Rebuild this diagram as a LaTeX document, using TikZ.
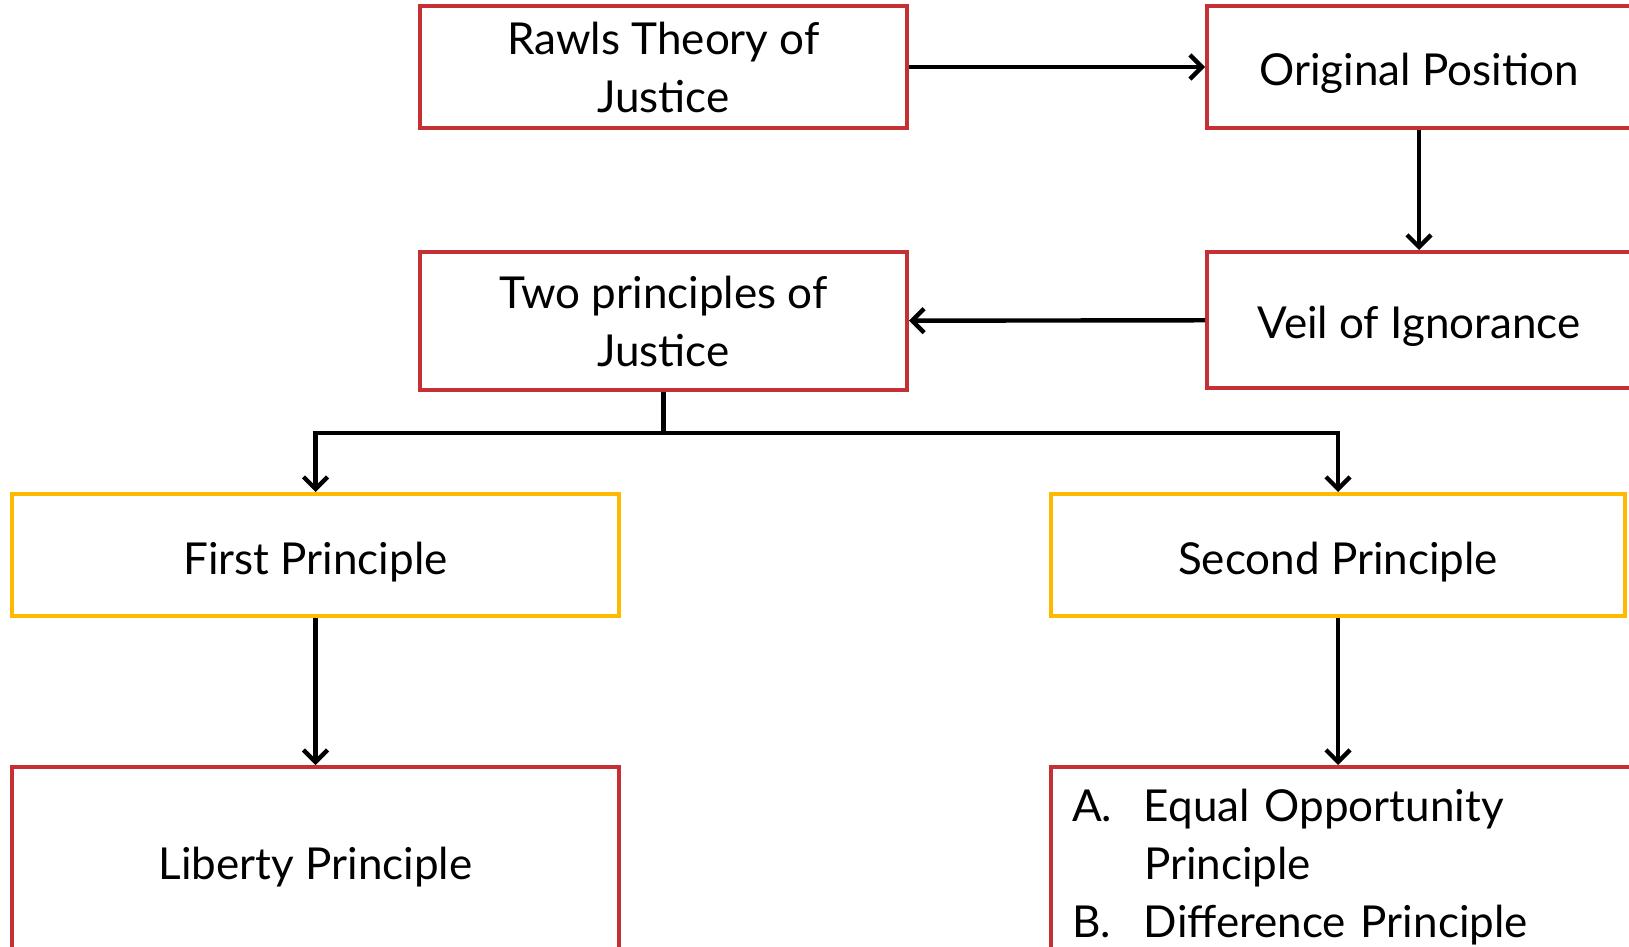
\documentclass[tikz,border=0pt]{standalone}
\usepackage{fontspec}
\setmainfont{Lato}
\usepackage{tikz}
\usetikzlibrary{arrows.meta}
\definecolor{boxred}{RGB}{196,48,52}
\definecolor{boxgold}{RGB}{255,186,0}

\begin{document}
\begin{tikzpicture}[x=0.5pt,y=-0.5pt]
            \tikzstyle{red node}=[draw=boxred,line width=2pt,fill=white,rectangle,align=center,inner sep=0pt,font=\fontsize{22}{29}\selectfont,execute at begin node={\rule{0pt}{23pt}}]
            \tikzstyle{gold node}=[red node,draw=boxgold]
            \tikzstyle{link}=[line width=2.2pt,-{Straight Barb[length=6pt,width=12pt]}]
            \useasboundingbox (0,0) rectangle (1629,947);

            \node[red node,minimum width=243.5pt,minimum height=61pt] (rawls) at (663.5,67) {Rawls Theory of\\Justice};
            \node[red node,minimum width=212pt,minimum height=61pt] (orig) at (1419,67) {Original Position};
            \node[red node,minimum width=212pt,minimum height=68pt] (veil) at (1419,320) {Veil of Ignorance};
            \node[red node,minimum width=243.5pt,minimum height=69pt] (two) at (663.5,321) {Two principles of\\Justice};
            \node[gold node,minimum width=303.5pt,minimum height=61pt] (first) at (315.5,555) {First Principle};
            \node[gold node,minimum width=287pt,minimum height=61pt] (second) at (1338,555) {Second Principle};
            \node[red node,minimum width=303.5pt,minimum height=93pt] (liberty) at (315.5,860) {Liberty Principle};
            \node[red node,minimum height=93pt,text width=274pt,inner xsep=10.5pt,align=left] (ab) at (1346,860)
                {\makebox[36pt][l]{A.}Equal Opportunity\\\hspace*{36pt}Principle\\\makebox[36pt][l]{B.}Difference Principle};
            \coordinate (split) at (663.5,433);

            \draw[link] (rawls) -- (orig);
            \draw[link] (orig) -- (veil);
            \draw[link] (veil) -- (two);
            \draw[line width=2.2pt] (two.south) -- (split);
            \draw[link] (split) -| (first.north);
            \draw[link] (split) -| (second.north);
            \draw[link] (first) -- (liberty);
            \draw[link] (second.south) -- (second.south |- ab.north);
        \end{tikzpicture}
\end{document}
